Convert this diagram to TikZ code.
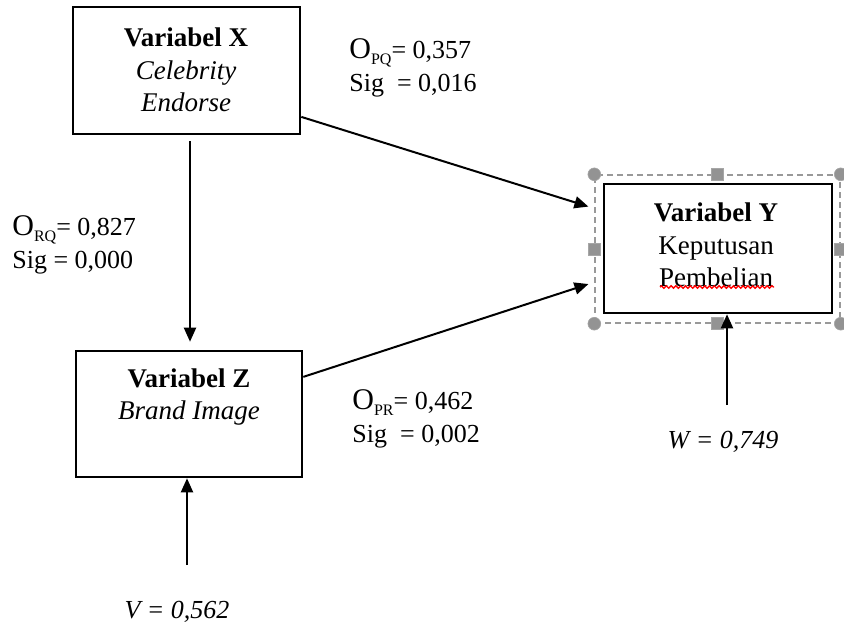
\documentclass[tikz,border=0pt]{standalone}
\usepackage{fontspec}
\setmainfont{Liberation Serif}
\usetikzlibrary{arrows.meta,decorations.pathmorphing}
\tikzset{
  box/.style={draw=black, line width=1.3pt, rectangle, inner sep=0pt},
  txt/.style={inner sep=0pt, align=center, font=\fontsize{13.5}{16.3}\selectfont},
  lbl/.style={inner sep=0pt, align=left, font=\fontsize{13}{16.5}\selectfont, anchor=west},
  arr/.style={line width=1pt, -{Triangle[length=7pt,width=6pt]}},
  sel/.style={draw=gray!80, line width=0.7pt, dash pattern=on 3pt off 2pt},
  handle/.style={fill=gray!85, draw=gray!70, line width=0.3pt},
}
\newcommand{\subl}[1]{\raisebox{-0.45ex}{\fontsize{8}{8}\selectfont #1}}
\begin{document}
\begin{tikzpicture}[x=0.5pt,y=-0.5pt]
\useasboundingbox (0,0) rectangle (844,628);
% boxes
\node[box, minimum width=113.5pt, minimum height=63.5pt] (X) at (186.5,70.5) {};
\node[box, minimum width=113pt, minimum height=63pt] (Z) at (189,414) {};
\node[box, minimum width=114pt, minimum height=64.5pt] (Y) at (718,248.5) {};
% selection frame
\node[sel, rectangle, minimum width=122.5pt, minimum height=74pt, inner sep=0pt] (S) at (717.5,249) {};
\foreach \p in {S.north west,S.north east,S.south west,S.south east}
  \fill[handle] (\p) circle (3.2pt);
\foreach \p in {S.north,S.south,S.west,S.east}
  \filldraw[handle] ([xshift=-3pt,yshift=-3pt]\p) rectangle ([xshift=3pt,yshift=3pt]\p);
% texts
\node[txt] (xt) at (186,70) {\textbf{Variabel X}\\\textit{Celebrity}\\\textit{Endorse}};
\node[txt, anchor=north] (zt) at (189,368) {\textbf{Variabel Z}\\\textit{Brand Image}};
\node[txt] (yt) at (716,245) {\textbf{Variabel Y}\\Keputusan\\Pembelian};
\draw[red, line width=0.7pt, decorate, decoration={snake, amplitude=0.6pt, segment length=2.4pt}]
  (660,287) -- (774,287);
% connectors
\draw[arr, shorten <=3pt, shorten >=4pt] (X.south -| 190,0) -- (Z.north -| 190,0);
\draw[arr, shorten >=7.5pt] (X.-22) -- (Y.162.4);
\draw[arr, shorten >=7.5pt] (Z.18.6) -- (Y.195);
\coordinate (v0) at (187,565);
\coordinate (w0) at (727,405);
\draw[arr] (v0) -- (Z.south -| v0);
\draw[arr] (w0) -- (Y.south -| w0);
% labels
\node[lbl] (lpq) at (349,68) {{\fontsize{15}{15}\selectfont O}\subl{PQ}= 0,357\\Sig \ = 0,016};
\node[lbl] (lrq) at (12,245) {{\fontsize{15}{15}\selectfont O}\subl{RQ}= 0,827\\Sig = 0,000};
\node[lbl] (lpr) at (352,419) {{\fontsize{15}{15}\selectfont O}\subl{PR}= 0,462\\Sig \ = 0,002};
\node[txt, font=\fontsize{13}{16}\selectfont\itshape] (vl) at (177,612) {V = 0,562};
\node[txt, font=\fontsize{13}{16}\selectfont\itshape] (wl) at (723,442) {W = 0,749};
\end{tikzpicture}
\end{document}
